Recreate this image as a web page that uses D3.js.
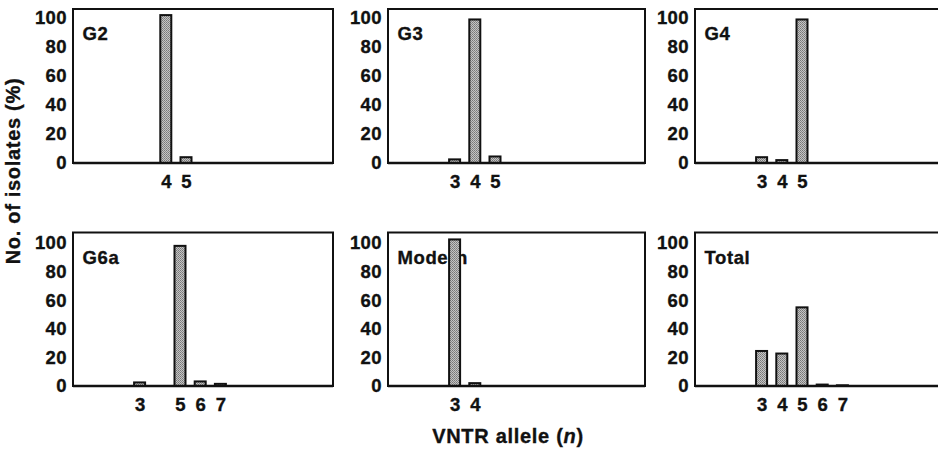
<!DOCTYPE html>
<meta charset="utf-8"/>
<html>
  <head>
    <script src="https://d3js.org/d3.v7.min.js"></script>
    <style>
      body { margin: 0; background: #fff; }
      text { font-family: 'Liberation Sans', Arial, sans-serif; font-weight: bold; fill: #111; stroke: #111; stroke-width: 0.35px; }
    </style>
  </head>
  <body>
<script type="text/javascript">
// values (% of isolates per VNTR allele n)
var groups = ['G2', 'G3', 'G4', 'G6a', 'Modern', 'Total'];
var allelesG2 = [4, 5];
var pctG2 = [102, 4];
var allelesG3 = [3, 4, 5];
var pctG3 = [2.5, 99, 4.5];
var allelesG4 = [3, 4, 5];
var pctG4 = [4, 2, 99];
var allelesG6a = [3, 5, 6, 7];
var pctG6a = [2.5, 98, 3.2, 1.5];
var allelesModern = [3, 4];
var pctModern = [102.5, 2];
var allelesTotal = [3, 4, 5, 6, 7];
var pctTotal = [24.5, 22.7, 55, 1, 0.5];
var yTicks = [0, 20, 40, 60, 80, 100];

var alleles = [allelesG2, allelesG3, allelesG4, allelesG6a, allelesModern, allelesTotal];
var pcts = [pctG2, pctG3, pctG4, pctG6a, pctModern, pctTotal];

var width = 938;
var height = 451;
var svg = d3.select('body').append('svg')
    .attr('width', width)
    .attr('height', height);

// stippled grey fill like the print
var defs = svg.append('defs');
var pat = defs.append('pattern')
    .attr('id', 'stip')
    .attr('width', 2).attr('height', 2)
    .attr('patternUnits', 'userSpaceOnUse');
pat.append('rect').attr('width', 2).attr('height', 2).attr('fill', '#c4c4c4');
pat.append('rect').attr('width', 1).attr('height', 1).attr('fill', '#777');
pat.append('rect').attr('x', 1).attr('y', 1).attr('width', 1).attr('height', 1).attr('fill', '#888');

// panel layout
var colLeft = [73, 388, 695];
var colWidth = [260, 257, 260];
var rowTop = [9, 232.5];
var rowBase = [163, 386];
var rowY100 = [18, 243];
var step = 20.2;
var panelDx = [6, 0, 0, 0, 0, 0];

groups.forEach(function(name, i) {
  var r = Math.floor(i / 3), c = i % 3;
  var left = colLeft[c] + panelDx[i];
  var right = colLeft[c] + colWidth[c];
  var top = rowTop[r];
  var base = rowBase[r];

  var x = d3.scaleLinear()
      .domain([0, 10])
      .range([left + 6, left + 6 + 10 * step]);
  var y = d3.scaleLinear()
      .domain([0, 100])
      .range([base, rowY100[r]]);

  var g = svg.append('g');

  g.append('rect')
      .attr('x', colLeft[c])
      .attr('y', top)
      .attr('width', right - colLeft[c])
      .attr('height', base - top)
      .attr('fill', 'white')
      .attr('stroke', '#111')
      .attr('stroke-width', 2);

  g.append('text')
      .attr('x', colLeft[c] + 9.5)
      .attr('y', top + 31)
      .style('font-size', '18.5px')
      .style('letter-spacing', '0.6px')
      .text(name);

  var data = alleles[i].map(function(a, k) { return {a: a, v: pcts[i][k]}; });
  g.selectAll('rect.bar')
      .data(data)
      .enter()
      .append('rect')
      .attr('class', 'bar')
      .attr('x', function(d) { return x(d.a) - 5.5; })
      .attr('y', function(d) { return y(d.v); })
      .attr('width', 11)
      .attr('height', function(d) { return base - y(d.v); })
      .attr('fill', 'url(#stip)')
      .attr('stroke', '#111')
      .attr('stroke-width', 2);

  g.append('line')
      .attr('x1', colLeft[c]).attr('x2', right)
      .attr('y1', base).attr('y2', base)
      .attr('stroke', '#111')
      .attr('stroke-width', 2.6);

  var yAxis = g.append('g')
      .attr('transform', 'translate(' + colLeft[c] + ',0)')
      .call(d3.axisLeft(y).tickValues(yTicks).tickSize(0).tickPadding(6));
  yAxis.select('.domain').remove();
  yAxis.selectAll('text')
      .style('font-size', '18.5px')
      .style('letter-spacing', '0.4px')
      .attr('fill', '#111');

  var xAxis = g.append('g')
      .attr('transform', 'translate(0,' + base + ')')
      .call(d3.axisBottom(x).tickValues(alleles[i]).tickFormat(d3.format('d')).tickSize(0).tickPadding(12));
  xAxis.select('.domain').remove();
  xAxis.selectAll('text').style('font-size', '18.5px').attr('fill', '#111');
});

svg.append('text')
    .attr('transform', 'translate(20,171) rotate(-90)')
    .attr('text-anchor', 'middle')
    .style('font-size', '20px')
    .style('letter-spacing', '0.7px')
    .text('No. of isolates (%)');

var xt = svg.append('text')
    .attr('x', 508)
    .attr('y', 443)
    .attr('text-anchor', 'middle')
    .style('font-size', '20px')
    .style('letter-spacing', '0.7px');
xt.append('tspan').text('VNTR allele (');
xt.append('tspan').style('font-style', 'italic').text('n');
xt.append('tspan').text(')');
</script>
  </body>
</html>
